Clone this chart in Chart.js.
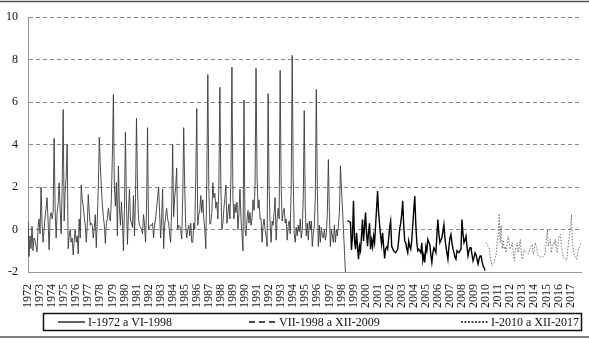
<!DOCTYPE html>
<html>
<head>
<meta charset="utf-8">
<script src="https://cdn.jsdelivr.net/npm/chart.js@4.4.0/dist/chart.umd.min.js"></script>
<style>
  html, body { margin: 0; padding: 0; background: #fff; }
</style>
</head>
<body>
<canvas id="grafico" width="589" height="343"></canvas>
<script>
// años del eje x (un tick por enero)
const startYear = 1972;
const endYear = 2017;
const yTicks = [-2, 0, 2, 4, 6, 8, 10];

const seriesLabels = ["I-1972 a VI-1998", "VII-1998 a XII-2009", "I-2010 a XII-2017"];

// I-1972 a VI-1998 (mensual)
const serie1 = [
  0.4, -1.27, -0.3, -0.9, 0.15, -1.0, -0.4, -0.5, -0.8, -1.05, 0.1, 0.5,
  -0.2, 2.0, 0.3, -0.6, 0.0, 0.6, 1.0, 1.5, 0.4, -0.95, 0.6, 0.8,
  0.5, 0.8, 4.3, 1.0, -0.4, 0.8, 1.2, 2.2, 1.0, -0.2, 2.0, 5.65,
  0.4, 1.8, 2.5, 4.0, -0.9, -0.3, 0.0, -0.6, -0.4, -1.2, -0.5, 0.0,
  -0.6, -0.3, -1.15, 0.5, -0.4, 2.1, 1.4, 1.1, 0.6, 0.2, -0.6, 0.2,
  1.65, 0.8, 0.2, 0.3, 0.2, -0.4, 0.1, 0.7, -0.85, 0.5, 2.0, 4.35,
  3.0, 2.0, 1.2, 0.6, 0.2, -0.65, 0.3, 0.5, 1.0, 0.6, 0.4, 1.5,
  3.5, 6.35, 2.0, 1.1, 2.2, -0.3, 3.0, 1.0, 0.2, 1.3, 0.4, -1.0,
  1.0, 4.6, 1.2, -0.7, 0.8, 1.9, 0.5, 0.3, 0.1, 1.6, -0.3, 1.5,
  5.25, 2.0, 0.5, 0.2, 0.1, 0.0, -0.2, 0.7, 0.2, -0.6, 1.0, 4.8,
  0.0, 0.1, 0.2, 0.2, 0.3, -0.4, 0.2, 0.5, 1.0, 1.5, 2.0, 0.8,
  -0.4, 0.5, 1.9, -0.9, 0.2, 0.6, 1.0, 0.5, 0.3, -0.2, -0.6, 1.0,
  4.0, 0.6, 1.5, 2.0, 2.9, 0.0, 0.2, 0.15, 0.0, -0.45, 1.5, 4.8,
  2.0, 0.1, -0.4, 0.0, 0.2, -0.3, 0.3, -0.6, -0.6, 0.3, 0.0, 2.5,
  5.7, 0.2, 0.7, 0.9, 1.6, 0.8, 1.4, 0.5, 0.0, -0.9, 2.5, 7.3,
  2.0, 0.25, 0.3, 0.8, 2.2, 1.5, 1.7, 1.0, 1.3, 0.5, 2.0, 6.7,
  2.0, 0.0, 0.3, 1.0, 1.5, 2.1, 0.3, 0.8, 1.2, 0.5, 2.5, 7.65,
  1.5, 0.5, 1.2, 0.8, 1.3, 0.0, 0.8, 1.9, 0.5, -0.2, -1.0, 6.1,
  0.0, -0.3, 0.5, 0.9, 0.3, 0.8, 0.2, 0.5, 1.4, 0.9, 2.0, 7.6,
  2.5, 1.0, 1.4, 0.5, 0.5, -0.6, 0.2, 0.5, 0.0, -0.3, -0.8, 6.4,
  2.0, 0.3, -0.6, 0.4, 0.2, 0.8, 1.5, -0.5, 0.5, 1.0, 0.5, 7.5,
  2.0, 0.4, 0.8, 1.0, 0.3, 0.5, -0.5, 0.2, 0.4, -0.2, 2.0, 8.2,
  2.5, -0.2, -0.6, 0.1, -0.3, 0.2, -0.1, 0.5, -0.4, 0.0, 1.5, 5.6,
  1.0, -0.3, 0.3, -0.5, 0.4, 0.0, 0.4, -0.8, -0.2, 0.2, 1.5, 6.6,
  2.0, -0.8, 0.2, -0.6, 0.1, -0.3, -0.4, 0.0, -0.5, -0.2, 0.8, 3.3,
  0.8, -0.8, 0.0, -0.3, -0.6, 0.2, -0.6, 0.0, -0.3, 0.2, 0.8, 3.0,
  2.0, 1.0, 0.0, -1.0, -2.0, -3.0
];

// VII-1998 a XII-2009
const serie2 = [
  0.42, 0.4, 0.36, 0.35, -0.96, -0.3, 1.35, -0.5, -0.93, -0.15, -0.8, -1.4,
  -0.78, -1.0, -0.3, 0.47, -0.54, 0.1, 0.8, -0.2, -0.78, -0.1, 0.3, -0.93,
  -0.5, -0.82, -0.31, -0.62, 0.2, 1.0, 1.81, 0.8, 0.23, -0.3, -0.7, -0.15,
  -0.8, -1.36, -0.9, -0.82, -0.93, -0.4, 0.1, 0.39, -0.78, -0.9, -1.0, -1.05,
  -1.09, -1.0, -0.93, -0.5, 0.03, 0.3, 0.7, 1.35, 0.2, -0.54, -0.62, -0.9,
  -1.09, -0.54, -0.8, -0.93, -0.5, 0.2, 0.9, 1.58, 0.3, -0.6, -1.0, -0.93,
  -1.0, -1.09, -0.62, -1.47, -1.2, -1.55, -0.8, -1.0, -0.47, -0.6, -0.7, -1.2,
  -1.55, -1.1, -0.86, -0.95, -1.09, -0.3, 0.47, -0.2, -0.62, -0.5, -0.39, -0.1,
  0.23, -0.4, -0.78, -1.1, -1.4, -0.8, -0.4, -0.23, -0.62, -0.9, -1.09, -1.3,
  -1.4, -1.0, -1.05, -1.09, -1.0, -0.93, 0.47, -0.2, -0.62, -0.5, -0.31, -0.8,
  -1.24, -1.0, -0.86, -0.86, -1.2, -1.47, -1.3, -1.1, -1.2, -1.4, -1.63, -1.4,
  -1.24, -1.24, -1.5, -1.71, -1.8, -1.94
];

// I-2010 a XII-2017
const serie3 = [
  -0.62, -0.7, -0.8, -0.86, -1.2, -1.5, -1.71, -1.6, -1.55, -1.3, -1.16, -0.6,
  -0.31, 0.75, -0.6, 0.2, -0.9, -0.5, -0.93, -0.8, -1.09, -0.7, -0.31, -0.6,
  -0.93, -0.8, -0.62, -1.0, -1.47, -1.0, -0.8, -0.62, -1.09, -0.8, -0.47, -1.0,
  -1.4, -1.2, -0.93, -1.0, -1.05, -1.09, -1.16, -1.0, -0.86, -0.75, -0.7, -1.16,
  -0.9, -0.62, -0.8, -1.09, -1.24, -1.28, -1.3, -1.32, -1.3, -1.25, -1.2, -1.09,
  -0.5, 0.0, -0.78, -0.6, -0.47, -1.09, -0.8, -0.62, -0.7, -0.47, -1.0, -1.09,
  -0.47, -0.3, -0.23, -0.8, -1.09, -1.32, -1.4, -1.45, -1.47, -1.1, -0.62, -0.3,
  0.2, 0.7, -0.62, -1.0, -1.24, -1.3, -1.4, -1.2, -0.93, -0.8, -0.7, -0.6
];

const totalMeses = (endYear - startYear + 1) * 12;
const inicio2 = serie1.length;
const inicio3 = serie1.length + serie2.length;

const puntos = (serie, offset) => serie.map((v, i) => ({ x: offset + i, y: v }));

const fuente = "'Liberation Serif', 'Times New Roman', serif";

// marco, reglas y leyenda con caja
const decoracion = {
  id: "decoracion",
  afterDraw(chart) {
    const ctx = chart.ctx;
    ctx.save();
    ctx.strokeStyle = "#555";
    ctx.lineWidth = 1.5;
    ctx.beginPath();
    ctx.moveTo(0, 1.5); ctx.lineTo(589, 1.5);
    ctx.moveTo(0, 337); ctx.lineTo(589, 337);
    ctx.stroke();

    ctx.strokeStyle = "#111";
    ctx.lineWidth = 1.5;
    ctx.strokeRect(43.5, 313.5, 538, 17);

    const xs = [58, 249, 461];
    const dashes = [[], [6, 4], [2, 1.5]];
    const yc = 322;
    ctx.font = "12px " + fuente;
    ctx.textBaseline = "middle";
    ctx.fillStyle = "#111";
    chart.data.datasets.forEach((ds, i) => {
      ctx.beginPath();
      ctx.setLineDash(dashes[i]);
      ctx.strokeStyle = "#111";
      ctx.lineWidth = 1.3;
      ctx.moveTo(xs[i], yc);
      ctx.lineTo(xs[i] + 27, yc);
      ctx.stroke();
      ctx.setLineDash([]);
      ctx.fillText(ds.label, xs[i] + 30, yc + 0.5);
    });
    ctx.restore();
  }
};

const ctx = document.getElementById("grafico").getContext("2d");
new Chart(ctx, {
  type: "line",
  data: {
    datasets: [
      {
        label: seriesLabels[0],
        data: puntos(serie1, 0),
        borderColor: "#3a3a3a",
        borderWidth: 0.9,
        pointRadius: 0,
        tension: 0,
      },
      {
        label: seriesLabels[1],
        data: puntos(serie2, inicio2),
        borderColor: "#000",
        borderWidth: 1.4,
        pointRadius: 0,
        tension: 0,
      },
      {
        label: seriesLabels[2],
        data: puntos(serie3, inicio3),
        borderColor: "#777",
        borderWidth: 1,
        borderDash: [1.5, 1.5],
        pointRadius: 0,
        tension: 0,
      },
    ],
  },
  options: {
    responsive: false,
    animation: false,
    layout: { padding: { top: 13, right: 6, left: 0, bottom: 0 } },
    scales: {
      x: {
        type: "linear",
        min: 0,
        max: totalMeses - 1,
        afterFit: (scale) => { scale.height = 71; },
        grid: { display: false },
        border: { display: true, color: "#999", width: 1 },
        ticks: {
          stepSize: 12,
          autoSkip: false,
          includeBounds: false,
          maxRotation: 90,
          minRotation: 90,
          padding: 4,
          color: "#222",
          font: { family: fuente, size: 12 },
          callback: (v) => (v % 12 === 0 ? String(startYear + v / 12) : ""),
        },
      },
      y: {
        min: yTicks[0],
        max: yTicks[yTicks.length - 1],
        afterFit: (scale) => { scale.width = 28; },
        grid: {
          drawTicks: false,
          color: (c) => (c.tick && c.tick.value === yTicks[0] ? "rgba(0,0,0,0)" : "#888"),
          lineWidth: 1,
        },
        border: { display: true, color: "#999", width: 1, dash: [4, 3] },
        ticks: {
          stepSize: 2,
          padding: 10,
          color: "#111",
          font: { family: fuente, size: 12 },
        },
      },
    },
    plugins: {
      legend: { display: false },
      tooltip: { enabled: false },
    },
  },
  plugins: [decoracion],
});
</script>
</body>
</html>
